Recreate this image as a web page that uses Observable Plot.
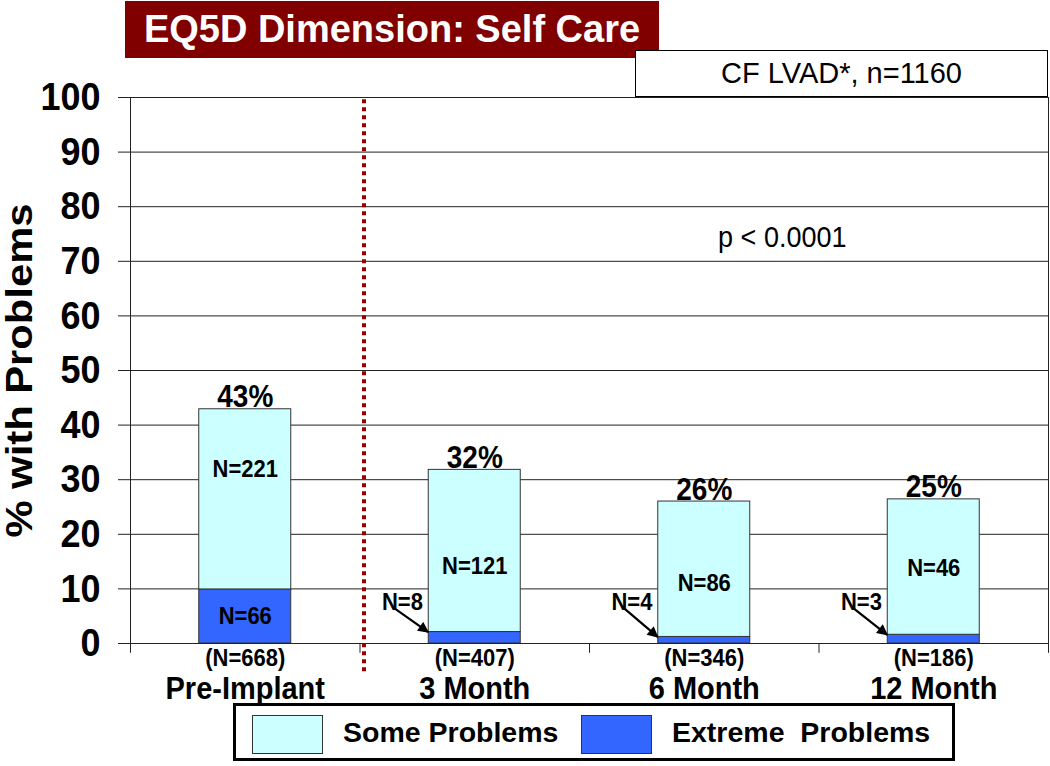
<!DOCTYPE html>
<html>
<head>
<meta charset="utf-8">
<script src="https://cdn.jsdelivr.net/npm/d3@7"></script>
<script src="https://cdn.jsdelivr.net/npm/@observablehq/plot@0.6"></script>
<style>
  body { margin: 0; background: #fff; font-family: "Liberation Sans", Arial, sans-serif; }
  #wrap { position: relative; width: 1050px; height: 766px; overflow: hidden; background: #fff; }
  #chart { position: absolute; left: 0; top: 0; }
  .title-box { position: absolute; left: 125px; top: 1px; width: 534px; height: 57px; background: #800000;
    color: #fff; font-weight: bold; font-size: 38px; display: flex; align-items: center; justify-content: center; white-space: nowrap; }
  .cf-box { position: absolute; left: 635px; top: 50px; width: 413px; height: 47px; box-sizing: border-box;
    border: 1px solid #000; background: #fff; font-size: 29px; display: flex; align-items: center; justify-content: center; white-space: nowrap; }
  .legend { position: absolute; left: 233px; top: 703px; width: 722px; height: 58px; box-sizing: border-box;
    border: 3px solid #000; background: #fff; }
  .legend .sw { position: absolute; top: 9px; width: 71px; height: 39px; box-sizing: border-box; border: 1px solid #333; }
  .legend .lab { position: absolute; top: 0; height: 52px; line-height: 52px; font-size: 28.5px; font-weight: bold; white-space: pre; }
</style>
</head>
<body>
<div id="wrap">
  <div id="chart"></div>
  <div class="title-box" id="title"></div>
  <div class="cf-box" id="cf"></div>
  <div class="legend" id="legend"></div>
</div>
<script>
// ---- data ----
const titleText = "EQ5D Dimension: Self Care";
const cohortText = "CF LVAD*, n=1160";
const pValueText = "p < 0.0001";
const yAxisTitle = "% with Problems";
const categories = ["Pre-Implant", "3 Month", "6 Month", "12 Month"];
const sampleSizes = ["(N=668)", "(N=407)", "(N=346)", "(N=186)"];
const seriesNames = ["Some Problems", "Extreme  Problems"];
const extremePct = [9.9, 2.1, 1.2, 1.6];
const totalPct = [42.9, 31.8, 26.0, 26.4];
const totalLabels = ["43%", "32%", "26%", "25%"];
const someCounts = ["N=221", "N=121", "N=86", "N=46"];
const extremeCounts = ["N=66", "N=8", "N=4", "N=3"];
const yTicks = [0, 10, 20, 30, 40, 50, 60, 70, 80, 90, 100];

// ---- annotation layout (data units) ----
const someLabelY = [32.0, 14.1, 11.0, 13.7];
const pValuePos = {x: 2.84, y: 74.4};

const seriesColors = ["#CCFFFF", "#3366FF"];

const idx = categories.map((c, i) => i);
const segments = idx.flatMap(i => [
  {i, series: seriesNames[1], y1: 0, y2: extremePct[i]},
  {i, series: seriesNames[0], y1: extremePct[i], y2: totalPct[i]}
]);
const inside = idx.filter(i => extremePct[i] >= 5);
const outside = idx.filter(i => extremePct[i] < 5);

const barInset = 68.75;

const chart = Plot.plot({
  width: 1050,
  height: 766,
  marginTop: 97,
  marginBottom: 123,
  marginLeft: 130,
  marginRight: 2,
  style: {fontFamily: "'Liberation Sans', Arial, sans-serif", color: "#000", background: "transparent", overflow: "visible"},
  x: {domain: [0, categories.length], axis: null},
  y: {domain: [0, 100], axis: null},
  color: {domain: seriesNames, range: seriesColors},
  marks: [
    Plot.gridY(yTicks, {stroke: "#222", strokeOpacity: 1, strokeWidth: 1}),
    Plot.rectY(segments, {x1: d => d.i, x2: d => d.i + 1, y1: "y1", y2: "y2", fill: "series",
      stroke: "#333", strokeWidth: 1, insetLeft: barInset, insetRight: barInset}),
    Plot.frame({stroke: "#222", strokeWidth: 1}),
    Plot.ruleX(d3.range(categories.length + 1), {y1: 0, y2: -1.8, stroke: "#222", strokeWidth: 1}),
    Plot.axisY({ticks: yTicks, tickSize: 12, tickPadding: 18, fontSize: 36, fontWeight: "bold", label: null, stroke: "#222"}),
    Plot.text([yAxisTitle], {frameAnchor: "left", textAnchor: "middle", rotate: -90, dx: -110, fontSize: 36, fontWeight: "bold"}),
    Plot.ruleX([1], {y1: 99.6, y2: -5.3, dx: 4, stroke: "#990000", strokeWidth: 4, strokeDasharray: "4,4"}),
    Plot.text(idx, {x: i => i + 0.5, y: i => totalPct[i], text: i => totalLabels[i], lineAnchor: "bottom", dy: -2, fontSize: 28, fontWeight: "bold"}),
    Plot.text(idx, {x: i => i + 0.5, y: i => someLabelY[i], text: i => someCounts[i], fontSize: 22, fontWeight: "bold"}),
    Plot.text(inside, {x: i => i + 0.5, y: i => extremePct[i] / 2, text: i => extremeCounts[i], fontSize: 22, fontWeight: "bold"}),
    Plot.text(outside, {x: i => i + 0.185, y: 7.6, text: i => extremeCounts[i], fontSize: 22, fontWeight: "bold"}),
    Plot.link(outside, {x1: i => i + 0.155, y1: 6.3, x2: i => i + 0.297, y2: i => extremePct[i],
      stroke: "#000", strokeWidth: 2.2, className: "count-arrow"}),
    Plot.text(idx, {x: i => i + 0.5, y: 0, dy: 15, text: i => sampleSizes[i], fontSize: 22, fontWeight: "bold"}),
    Plot.text(idx, {x: i => i + 0.5, y: 0, dy: 45, text: i => categories[i], fontSize: 29, fontWeight: "bold"}),
    Plot.text([pValueText], {x: pValuePos.x, y: pValuePos.y, fontSize: 27})
  ]
});

const svg = d3.select(chart);

// the reference glyphs are a little taller than plain Arial: stretch text slightly
svg.selectAll("text").each(function () {
  const t = this.getAttribute("transform");
  if (!t || !t.startsWith("translate")) return;
  this.setAttribute("transform", t + (t.includes("rotate") ? " scale(1.16,1)" : " scale(1,1.1)"));
});

// filled arrowheads for the count arrows
svg.append("defs").append("marker")
  .attr("id", "tri-head")
  .attr("viewBox", "0 -5 10 10")
  .attr("refX", 9)
  .attr("refY", 0)
  .attr("markerUnits", "userSpaceOnUse")
  .attr("markerWidth", 12)
  .attr("markerHeight", 11)
  .attr("orient", "auto")
  .append("path")
  .attr("d", "M0,-5L10,0L0,5Z")
  .attr("fill", "#000");
svg.selectAll(".count-arrow path").attr("marker-end", "url(#tri-head)");

document.getElementById("chart").appendChild(chart);

document.getElementById("title").textContent = titleText;
document.getElementById("cf").textContent = cohortText;

const legend = document.getElementById("legend");
const legendX = [{sw: 16, lab: 107}, {sw: 345, lab: 436}];
seriesNames.forEach((name, k) => {
  const sw = document.createElement("div");
  sw.className = "sw";
  sw.style.left = legendX[k].sw + "px";
  sw.style.background = seriesColors[k];
  legend.appendChild(sw);
  const lab = document.createElement("div");
  lab.className = "lab";
  lab.style.left = legendX[k].lab + "px";
  lab.textContent = name;
  legend.appendChild(lab);
});
</script>
</body>
</html>
